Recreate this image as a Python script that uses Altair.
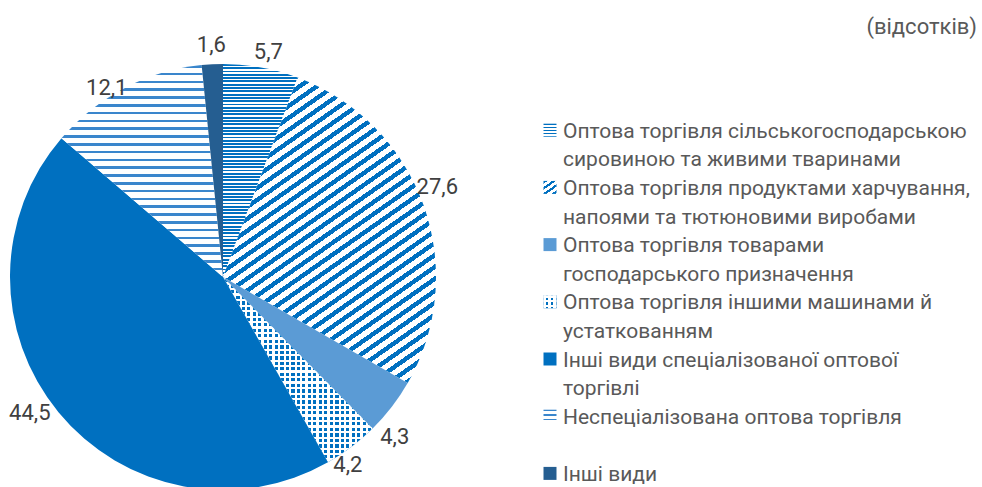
import math
import altair as alt
import pandas as pd

# ---------------- data ----------------
categories = [
    "Оптова торгівля сільськогосподарською сировиною та живими тваринами",
    "Оптова торгівля продуктами харчування, напоями та тютюновими виробами",
    "Оптова торгівля товарами господарського призначення",
    "Оптова торгівля іншими машинами й устаткованням",
    "Інші види спеціалізованої оптової торгівлі",
    "Неспеціалізована оптова торгівля",
    "Інші види",
]
values = [5.7, 27.6, 4.3, 4.2, 44.5, 12.1, 1.6]
legend_line1 = [
    "Оптова торгівля сільськогосподарською",
    "Оптова торгівля продуктами харчування,",
    "Оптова торгівля товарами",
    "Оптова торгівля іншими машинами й",
    "Інші види спеціалізованої оптової",
    "Неспеціалізована оптова торгівля",
    "Інші види",
]
legend_line2 = [
    "сировиною та живими тваринами",
    "напоями та тютюновими виробами",
    "господарського призначення",
    "устаткованням",
    "торгівлі",
    "",
    "",
]
unit_note = "(відсотків)"

# ---------------- style ----------------
CX, CY, R = 223, 277, 213
LABEL_R = 232
# small per-label nudges (pixels) away from the polar anchor, as Excel's placement
label_nudge = [(4, 3), (-4, -11), (-12, 18), (-15, 3), (-14, -11), (-9, 17), (0, 0)]
BLUE = "#0070C0"
LIGHT = "#5B9BD5"
DARK = "#255E91"
ZIG = "#3A86CC"
WHITE = "#FFFFFF"
CLEAR = "rgba(255,255,255,0)"
FONT = "Roboto"
TXT = "#595959"


def stripes(w, h, angle, period, frac, on, off):
    """Linear gradient producing hard-edged stripes running at `angle` degrees."""
    a = math.radians(angle)
    gx, gy = math.sin(a) / h, math.cos(a) / w
    corners = [(0, 0), (1, 0), (0, 1), (1, 1)]
    p = [gx * u + gy * v for u, v in corners]
    imin = min(range(4), key=lambda i: p[i])
    pmin, pmax = min(p), max(p)
    k = (pmax - pmin) / (gx * gx + gy * gy)
    sx, sy = corners[imin]
    span = w * abs(math.sin(a)) + h * abs(math.cos(a))
    dt = period / span
    stops = []
    i = 0
    while i * dt < 1:
        a0 = round(i * dt, 5)
        a1 = round(min(1, (i + frac) * dt), 5)
        a2 = round(min(1, (i + 1) * dt), 5)
        stops += [
            {"offset": a0, "color": on},
            {"offset": a1, "color": on},
            {"offset": a1, "color": off},
            {"offset": a2, "color": off},
        ]
        i += 1
    return {
        "gradient": "linear",
        "x1": sx, "y1": sy,
        "x2": sx + gx * k, "y2": sy + gy * k,
        "stops": stops,
    }


def slice_bbox(p0, p1):
    t0, t1 = p0 * 3.6, p1 * 3.6

    def pt(t):
        r = math.radians(t)
        return CX + R * math.sin(r), CY - R * math.cos(r)

    pts = [(CX, CY), pt(t0), pt(t1)] + [pt(c) for c in (0, 90, 180, 270, 360) if t0 < c < t1]
    xs = [q[0] for q in pts]
    ys = [q[1] for q in pts]
    return max(xs) - min(xs), max(ys) - min(ys)


def fills(i, w, h, legend=False):
    """List of fills (base first, overlays after) for item i."""
    sc = 0.9 if legend else 1.0
    if i == 0:
        return [stripes(w, h, 0, 3.3 * sc, 0.55, BLUE, WHITE)]
    if i == 1:
        return [stripes(w, h, 35, (9.8 if not legend else 5.0), 0.45, BLUE, WHITE)]
    if i == 2:
        return [LIGHT]
    if i == 3:
        return [BLUE,
                stripes(w, h, 0, 5.5 * sc, 0.45, WHITE, CLEAR),
                stripes(w, h, 90, 5.5 * sc, 0.45, WHITE, CLEAR)]
    if i == 4:
        return [BLUE]
    if i == 5:
        return [stripes(w, h, 0, (7.8 if not legend else 4.5), 0.32, ZIG, WHITE)]
    return [DARK]


# ---------------- tables ----------------
df = pd.DataFrame({"idx": list(range(len(values))), "category": categories, "value": values})
leg = pd.DataFrame({
    "idx": list(range(len(values))) * 2,
    "sub": [0] * len(values) + [1] * len(values),
    "text": legend_line1 + legend_line2,
})

theta_scale = alt.Scale(domain=[0, 100], range=[0, 2 * math.pi])

base = (
    alt.Chart(df)
    .transform_window(end="sum(value)", sort=[alt.SortField("idx")], frame=[None, 0])
    .transform_calculate(start="datum.end - datum.value", mid="datum.end - datum.value / 2")
)

layers = []
cum = 0.0
for i, v in enumerate(values):
    w, h = slice_bbox(cum, cum + v)
    cum += v
    for f in fills(i, w, h):
        layers.append(
            base.transform_filter(alt.datum.idx == i)
            .mark_arc(fill=f, radius=R, stroke=None)
            .encode(
                theta=alt.Theta("start:Q", scale=theta_scale, stack=None),
                theta2="end:Q",
                x=alt.value(CX),
                y=alt.value(CY),
            )
        )

for i in range(len(values)):
    ndx, ndy = label_nudge[i]
    layers.append(
        base.transform_filter(alt.datum.idx == i)
        .transform_calculate(lab="replace(format(datum.value, '.1f'), '.', ',')")
        .mark_text(font=FONT, fontSize=22, color="#404040", align="center",
                   baseline="middle", dx=ndx, dy=ndy)
        .encode(
            theta=alt.Theta("mid:Q", scale=theta_scale, stack=None),
            radius=alt.value(LABEL_R),
            x=alt.value(CX),
            y=alt.value(CY),
            text="lab:N",
        )
    )

line_scale = alt.Scale(domain=[0, 12], range=[131.7, 474.9])

legend_text = (
    alt.Chart(leg)
    .transform_filter("datum.text != ''")
    .transform_calculate(line="2 * datum.idx + datum.sub")
    .mark_text(font=FONT, fontSize=21, color=TXT, align="left", baseline="middle")
    .encode(
        x=alt.value(563),
        y=alt.Y("line:Q", scale=line_scale, axis=None),
        text="text:N",
    )
)
layers.append(legend_text)

SYM = 13
for i in range(len(values)):
    for f in fills(i, SYM, SYM, legend=True):
        layers.append(
            alt.Chart(leg)
            .transform_filter((alt.datum.idx == i) & (alt.datum.sub == 0))
            .transform_calculate(line="2 * datum.idx")
            .mark_square(fill=f, size=SYM * SYM, opacity=1, strokeWidth=0, yOffset=-1.5)
            .encode(
                x=alt.value(550),
                y=alt.Y("line:Q", scale=line_scale, axis=None),
            )
        )

note = (
    alt.Chart(pd.DataFrame({"t": [unit_note]}))
    .mark_text(font=FONT, fontSize=22, color=TXT, align="right", baseline="middle")
    .encode(x=alt.value(977), y=alt.value(27), text="t:N")
)
layers.append(note)

chart = (
    alt.layer(*layers)
    .properties(width=982, height=487, autosize=alt.AutoSizeParams(type="none"), padding=0)
    .configure_view(stroke=None)
)

chart.save("out.html", embed_options={"renderer": "svg", "actions": False})
